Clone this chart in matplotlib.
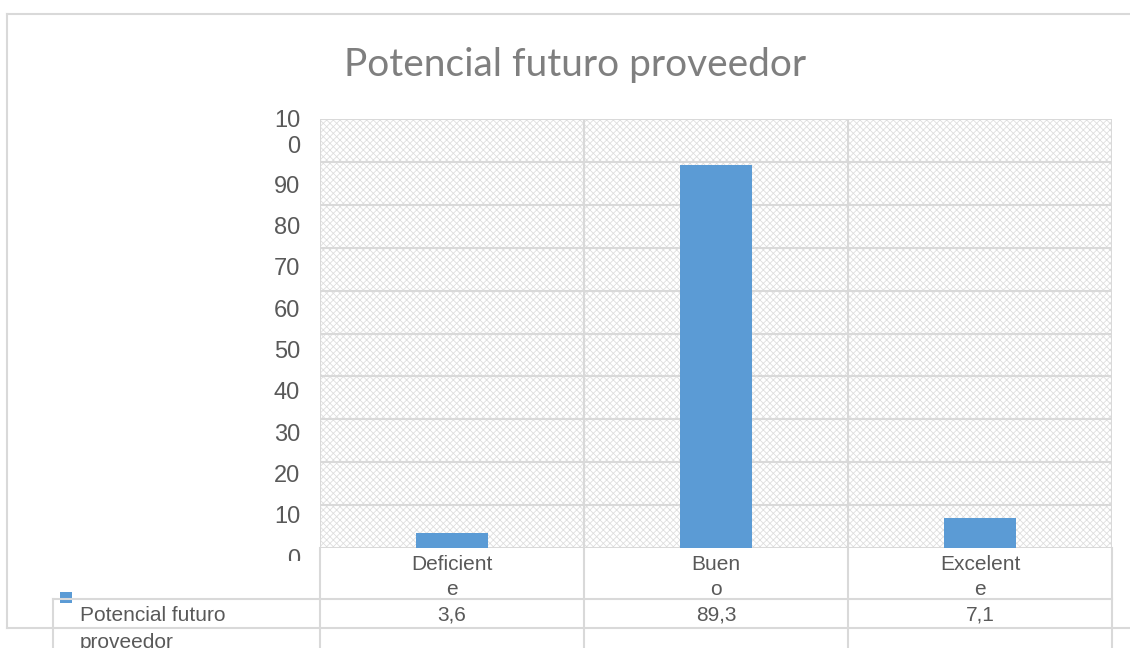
import matplotlib
matplotlib.use('Agg')
import matplotlib.pyplot as plt
from matplotlib.lines import Line2D
from matplotlib.patches import Rectangle
import matplotlib.transforms as mtransforms

# ---- data ----
categories = ['Deficiente', 'Bueno', 'Excelente']
cat_labels = ['Deficient\ne', 'Buen\no', 'Excelent\ne']
values = [3.6, 89.3, 7.1]
value_labels = ['3,6', '89,3', '7,1']
series_name = 'Potencial futuro\nproveedor'
title = 'Potencial futuro proveedor'
yticks = [0, 10, 20, 30, 40, 50, 60, 70, 80, 90, 100]
ytick_labels = ['0', '10', '20', '30', '40', '50', '60', '70', '80', '90', '10\n0']

W, H = 1130, 648
DPI = 100
BAR = '#5b9bd5'
GRID = '#d9d9d9'
TXT = '#595959'
FONT = ['Liberation Sans', 'DejaVu Sans']

fig = plt.figure(figsize=(W / DPI, H / DPI), dpi=DPI)
fig.patch.set_facecolor('white')


def fx(px):
    return px / W


def fy(py):
    return 1 - py / H


plt.rcParams['hatch.linewidth'] = 0.6

ax = fig.add_axes([fx(320), fy(548), fx(1112) - fx(320), fy(119) - fy(548)])
ax.set_xlim(-0.5, len(categories) - 0.5)
ax.set_ylim(0, 100)
ax.set_facecolor('white')
ax.add_patch(Rectangle((0, 0), 1, 1, transform=ax.transAxes, facecolor='white',
                       edgecolor='#dedede', hatch='xxxxx', linewidth=0, zorder=0))
for s in ax.spines.values():
    s.set_visible(False)
ax.set_xticks([])
ax.set_yticks([])

# gridlines
for t in yticks:
    ax.axhline(t, color=GRID, lw=1.5, zorder=1)
for i in range(len(categories) + 1):
    ax.axvline(i - 0.5, color=GRID, lw=1.5, zorder=1)

ax.bar(range(len(categories)), values, width=0.273, color=BAR, zorder=3)

# y tick labels (drawn a little below their gridlines, as in the reference)
ylab_tr = mtransforms.blended_transform_factory(fig.transFigure, ax.transData)
clip = mtransforms.TransformedBbox(mtransforms.Bbox.from_extents(0, fy(561), 1, 1), fig.transFigure)
for t, lab in zip(yticks, ytick_labels):
    if '\n' in lab:
        off = -15
    elif t == 0:
        off = -12
    else:
        off = -(12 + (t - 10) / 80 * 13)
    tr = ylab_tr + mtransforms.ScaledTranslation(0, off / DPI, fig.dpi_scale_trans)
    txt = fig.text(fx(300), t, lab, transform=tr, ha='right', va='center',
                   fontsize=17, color=TXT, family=FONT, linespacing=1.19)
    if t == 0:
        txt.set_clip_on(True)
        txt.set_clip_box(clip)

# title
fig.text(fx(575), fy(65), title, ha='center', va='center', fontsize=28,
         color='#7f7f7f', family=['Lato', 'DejaVu Sans'])

# data table
xdata_tr = mtransforms.blended_transform_factory(ax.transData, fig.transFigure)
for i, (cl, vl) in enumerate(zip(cat_labels, value_labels)):
    fig.text(i, fy(577), cl, transform=xdata_tr, ha='center', va='center',
             fontsize=15, color=TXT, family=FONT, linespacing=1.45)
    fig.text(i, fy(615), vl, transform=xdata_tr, ha='center', va='center',
             fontsize=15, color=TXT, family=FONT)

fig.text(fx(80), fy(629), series_name, ha='left', va='center', fontsize=15,
         color=TXT, family=FONT, linespacing=1.5)
fig.add_artist(Rectangle((fx(60), fy(603)), fx(12), 11 / H, transform=fig.transFigure,
                         facecolor=BAR, edgecolor='none'))


def fline(xs, ys):
    fig.add_artist(Line2D([fx(x) for x in xs], [fy(y) for y in ys], color=GRID,
                          lw=1.5, transform=fig.transFigure))


# outer border
fline([7, 1130], [14, 14])
fline([7, 7], [14, 628])
fline([7, 1130], [628, 628])
# table lines
fline([53, 1112], [599, 599])
fline([53, 53], [599, 648])
for i in range(len(categories) + 1):
    fig.add_artist(Line2D([i - 0.5, i - 0.5], [fy(548), 0], color=GRID, lw=1.5,
                          transform=xdata_tr))

fig.savefig('out.png', dpi=DPI, facecolor='white')
